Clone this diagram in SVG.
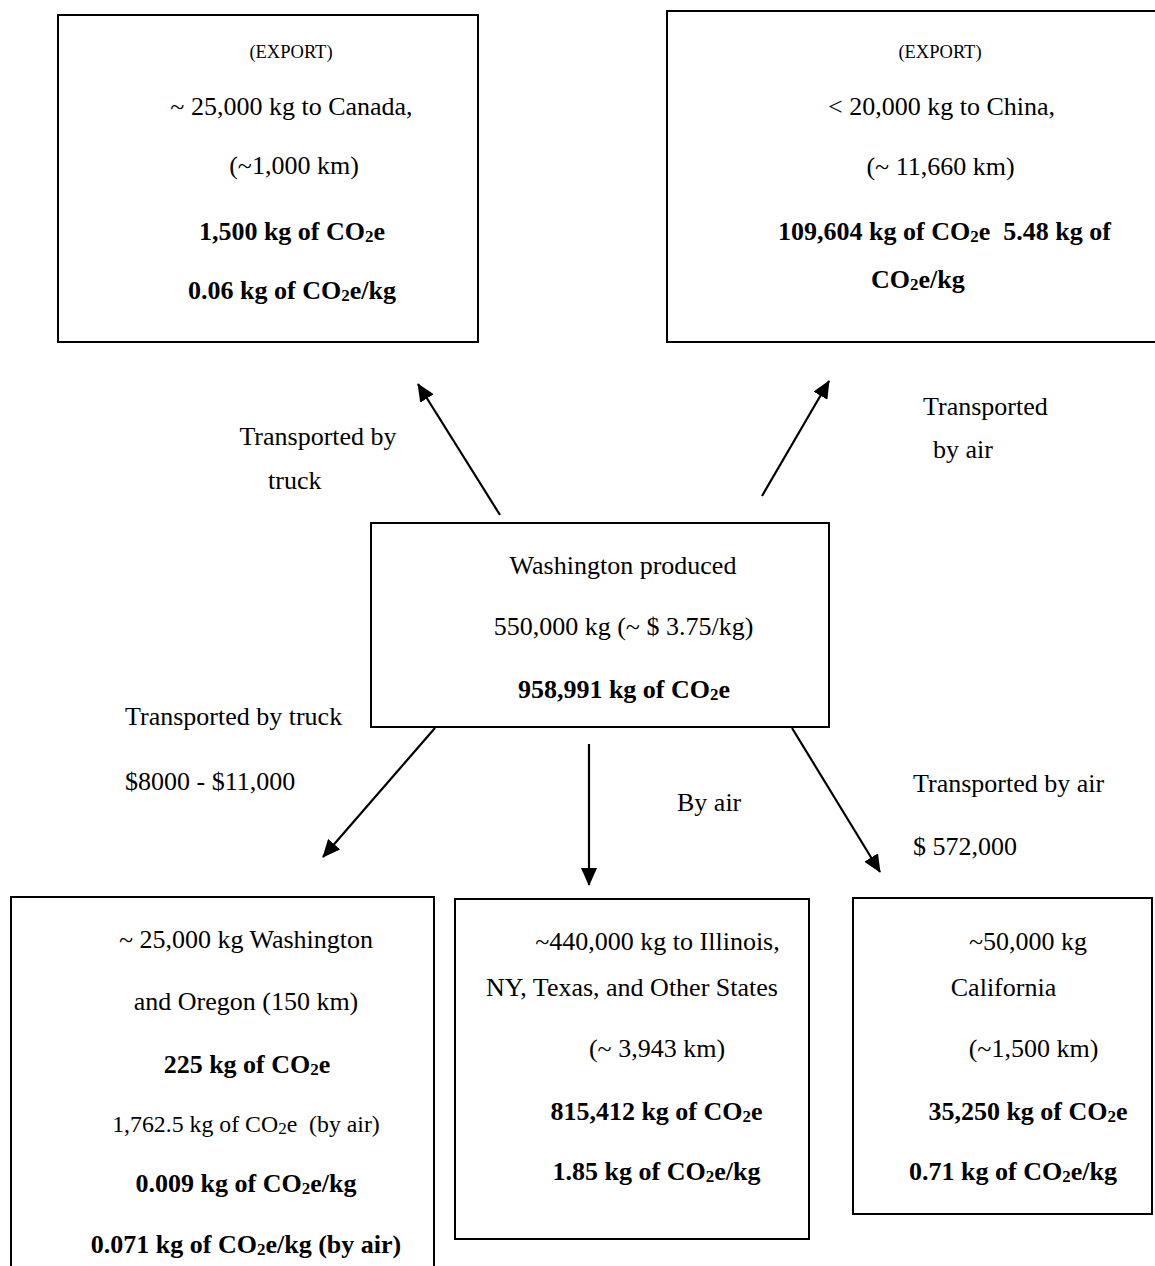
<svg xmlns="http://www.w3.org/2000/svg" width="1155" height="1266" viewBox="0 0 1155 1266">
<style>
  text { font-family: "Liberation Serif", "Times New Roman", serif; font-size: 26px; fill: #000; }
  .c { text-anchor: middle; }
  .b { font-weight: bold; }
  .s { font-size: 18.5px; }
  .m { font-size: 23.8px; }
  .sub { font-size: 17px; }
  .box { fill: #fff; stroke: #000; stroke-width: 2; }
  .arr { stroke: #000; stroke-width: 2.2; fill: none; marker-end: url(#ah); }
</style>
<defs>
  <marker id="ah" markerUnits="userSpaceOnUse" markerWidth="18" markerHeight="16" refX="17" refY="8" orient="auto">
    <path d="M0,0 L18,8 L0,16 z" fill="#000"/>
  </marker>
</defs>
<rect width="1155" height="1266" fill="#fff"/>

<g id="connectors">
  <line class="arr" x1="500" y1="515" x2="418" y2="384"/>
  <line class="arr" x1="762" y1="496" x2="829" y2="381"/>
  <line class="arr" x1="435" y1="728" x2="323" y2="857"/>
  <line class="arr" x1="589" y1="744" x2="589" y2="885"/>
  <line class="arr" x1="792" y1="728" x2="880" y2="872"/>
  <text x="318" y="445" class="c">Transported by</text>
  <text x="268" y="489">truck</text>
  <text x="923" y="415">Transported</text>
  <text x="933" y="458">by air</text>
  <text x="125" y="725">Transported by truck</text>
  <text x="125" y="790">$8000 - $11,000</text>
  <text x="677" y="811">By air</text>
  <text x="913" y="792">Transported by air</text>
  <text x="913" y="855">$ 572,000</text>
</g>

<g id="export-canada">
  <rect class="box" x="58" y="15" width="420" height="327"/>
  <text x="291" y="58" class="c s">(EXPORT)</text>
  <text x="291.5" y="115" class="c">~ 25,000 kg to Canada,</text>
  <text x="294" y="174" class="c">(~1,000 km)</text>
  <text x="292" y="240" class="c b">1,500 kg of CO<tspan class="sub" dy="2">2</tspan><tspan dy="-2">e</tspan></text>
  <text x="292" y="299" class="c b">0.06 kg of CO<tspan class="sub" dy="2">2</tspan><tspan dy="-2">e/kg</tspan></text>
</g>

<g id="export-china">
  <rect class="box" x="667" y="11" width="500" height="331"/>
  <text x="940" y="58" class="c s">(EXPORT)</text>
  <text x="941.5" y="115" class="c">&lt; 20,000 kg to China,</text>
  <text x="940.5" y="175" class="c">(~ 11,660 km)</text>
  <text x="944.5" y="240" class="c b" xml:space="preserve">109,604 kg of CO<tspan class="sub" dy="2">2</tspan><tspan dy="-2">e  5.48 kg of</tspan></text>
  <text x="871" y="288" class="b">CO<tspan class="sub" dy="2">2</tspan><tspan dy="-2">e/kg</tspan></text>
</g>

<g id="washington">
  <rect class="box" x="371" y="523" width="458" height="204"/>
  <text x="623" y="574" class="c">Washington produced</text>
  <text x="623.5" y="635" class="c">550,000 kg (~ $ 3.75/kg)</text>
  <text x="624" y="698" class="c b">958,991 kg of CO<tspan class="sub" dy="2">2</tspan><tspan dy="-2">e</tspan></text>
</g>

<g id="wa-oregon">
  <rect class="box" x="11" y="897" width="423" height="380"/>
  <text x="246" y="948" class="c">~ 25,000 kg Washington</text>
  <text x="246" y="1010" class="c">and Oregon (150 km)</text>
  <text x="247" y="1073" class="c b">225 kg of CO<tspan class="sub" dy="2">2</tspan><tspan dy="-2">e</tspan></text>
  <text x="246" y="1132" class="c m" xml:space="preserve">1,762.5 kg of CO<tspan class="sub" font-size="15.5" dy="2">2</tspan><tspan dy="-2">e  (by air)</tspan></text>
  <text x="246" y="1192" class="c b">0.009 kg of CO<tspan class="sub" dy="2">2</tspan><tspan dy="-2">e/kg</tspan></text>
  <text x="246" y="1253" class="c b">0.071 kg of CO<tspan class="sub" dy="2">2</tspan><tspan dy="-2">e/kg (by air)</tspan></text>
</g>

<g id="other-states">
  <rect class="box" x="455" y="899" width="354" height="340"/>
  <text x="657.5" y="950" class="c">~440,000 kg to Illinois,</text>
  <text x="632" y="996" class="c">NY, Texas, and Other States</text>
  <text x="657" y="1057" class="c">(~ 3,943 km)</text>
  <text x="656.5" y="1120" class="c b">815,412 kg of CO<tspan class="sub" dy="2">2</tspan><tspan dy="-2">e</tspan></text>
  <text x="656.5" y="1180" class="c b">1.85 kg of CO<tspan class="sub" dy="2">2</tspan><tspan dy="-2">e/kg</tspan></text>
</g>

<g id="california">
  <rect class="box" x="853" y="898" width="299" height="316"/>
  <text x="1028" y="950" class="c">~50,000 kg</text>
  <text x="1003.5" y="996" class="c">California</text>
  <text x="1033.5" y="1057" class="c">(~1,500 km)</text>
  <text x="1028" y="1120" class="c b">35,250 kg of CO<tspan class="sub" dy="2">2</tspan><tspan dy="-2">e</tspan></text>
  <text x="1013" y="1180" class="c b">0.71 kg of CO<tspan class="sub" dy="2">2</tspan><tspan dy="-2">e/kg</tspan></text>
</g>
</svg>
